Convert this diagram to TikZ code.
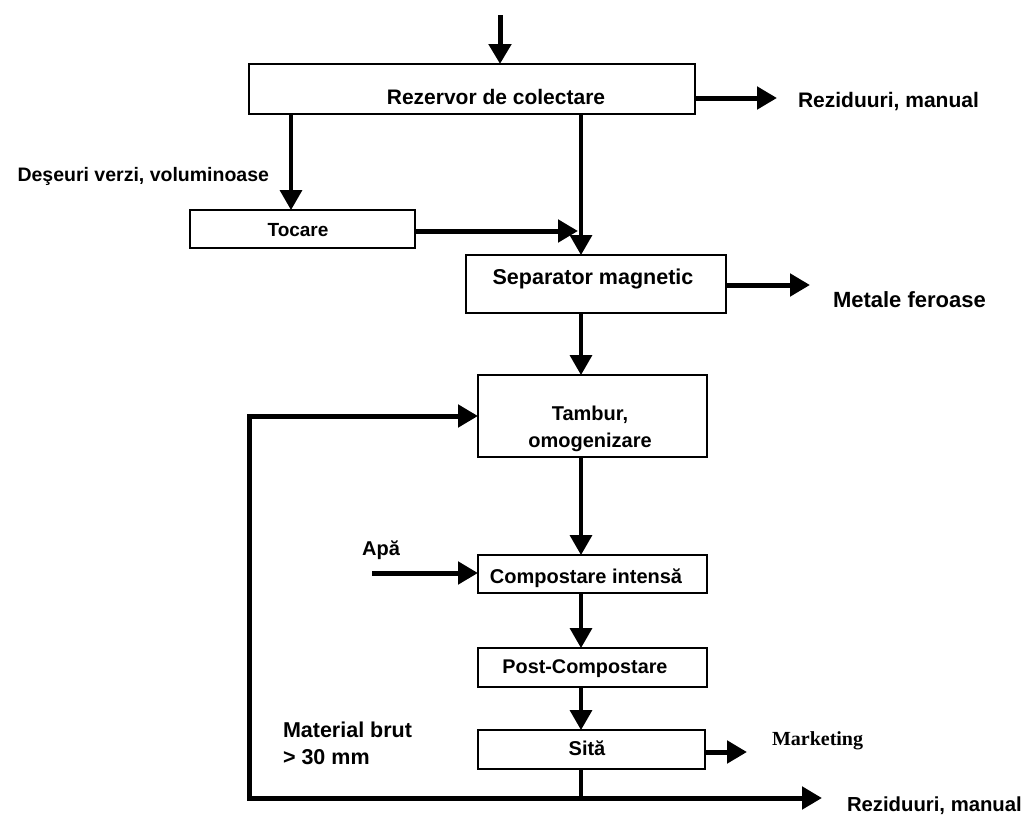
\documentclass[tikz,border=0pt]{standalone}
\usepackage{fontspec}
\setmainfont{Liberation Sans}
\newfontfamily\serifbf{Liberation Serif}
\usetikzlibrary{arrows.meta,calc}
\newcommand\fsz[2]{\fontsize{#1}{#2}\selectfont}
\begin{document}
\begin{tikzpicture}[x=1pt,y=-1pt,
  box/.style={draw=black, line width=2.7pt, inner sep=0pt, outer sep=0pt},
  txt/.style={inner sep=0pt, outer sep=0pt, font=\bfseries\fsz{20}{27}},
  vline/.style={line width=3.5pt},
  hline/.style={line width=5pt},
  arr/.style={-{Triangle[length=20pt,width=22pt]}}]
\useasboundingbox[fill=white] (0,0) rectangle (1023,819);

% boxes
\node[box, minimum width=446pt, minimum height=50pt] (rez) at (472,89) {};
\node[box, minimum width=225pt, minimum height=38pt] (toc) at (302.5,229) {};
\node[box, minimum width=260pt, minimum height=58pt] (sep) at (596,284) {};
\node[box, minimum width=229pt, minimum height=82pt] (tam) at (592.5,416) {};
\node[box, minimum width=229pt, minimum height=38pt] (comp) at (592.5,574) {};
\node[box, minimum width=229pt, minimum height=39pt] (post) at (592.5,667.5) {};
\node[box, minimum width=227pt, minimum height=39pt] (sita) at (591.5,749.5) {};

% box texts
\node[txt, font=\bfseries\fsz{21}{25}] (rezt) at (496,97) {Rezervor de colectare};
\node[txt, font=\bfseries\fsz{19}{23}] (toct) at (298,230) {Tocare};
\node[txt, font=\bfseries\fsz{21.5}{25}] (sept) at (593,279) {Separator magnetic};
\node[txt, align=center] (tamt) at (590,429) {Tambur,\\omogenizare};
\node[txt] (compt) at (586,578) {Compostare intensă};
\node[txt, font=\bfseries\fsz{19.8}{24}] (postt) at (585,669) {Post-Compostare};
\node[txt] (sitat) at (587,748) {Sită};

% free ends
\coordinate (in) at (500,15);
\coordinate (r1) at (777,98);
\coordinate (dx) at (291,0);
\coordinate (mx) at (581,0);
\coordinate (tj) at (578,231);
\coordinate (m1) at (810,285);
\coordinate (apa) at (372,573);
\coordinate (mk) at (747,752);
\coordinate (jb) at (581,798);
\coordinate (bl) at (249,798);
\coordinate (br) at (822,798);

% connectors
\draw[hline,arr] (in) -- (in |- rez.north);
\draw[hline,arr] (rez.east |- r1) -- (r1);
\draw[vline,arr] (rez.south -| dx) -- (toc.north -| dx);
\draw[vline,arr] (rez.south -| mx) -- (sep.north -| mx);
\draw[hline,arr] (toc.east |- tj) -- (tj);
\draw[hline,arr] (sep.east |- m1) -- (m1);
\draw[vline,arr] (sep.south -| mx) -- (tam.north -| mx);
\draw[vline,arr] (tam.south -| mx) -- (comp.north -| mx);
\draw[hline,arr] (apa) -- (apa -| comp.west);
\draw[vline,arr] (comp.south -| mx) -- (post.north -| mx);
\draw[vline,arr] (post.south -| mx) -- (sita.north -| mx);
\draw[hline,arr] (sita.east |- mk) -- (mk);
\draw[vline] (sita.south -| mx) -- (jb);
\draw[hline,arr] (jb) -- (br);
\draw[hline,arr] (jb) -- (bl) |- (tam.west);

% labels
\node[txt, font=\bfseries\fsz{21}{25}, anchor=west] (r1t) at (798,102) {Reziduuri, manual};
\node[txt, font=\bfseries\fsz{19.5}{24}, anchor=east] (dt) at (269,176) {Deşeuri verzi, voluminoase};
\node[txt, font=\bfseries\fsz{22}{26}, anchor=west] (m1t) at (833,300) {Metale feroase};
\node[txt] (apat) at (381,550) {Apă};
\node[txt, font=\serifbf\bfseries\fsz{20}{24}, anchor=west] (mkt) at (772,741) {Marketing};
\node[txt, font=\bfseries\fsz{21.5}{27}, align=left, anchor=west] (matt) at (283,743) {Material brut\\> 30 mm};
\node[txt, font=\bfseries\fsz{20.3}{24}, anchor=west] (r2t) at (847,806) {Reziduuri, manual};
\end{tikzpicture}
\end{document}
